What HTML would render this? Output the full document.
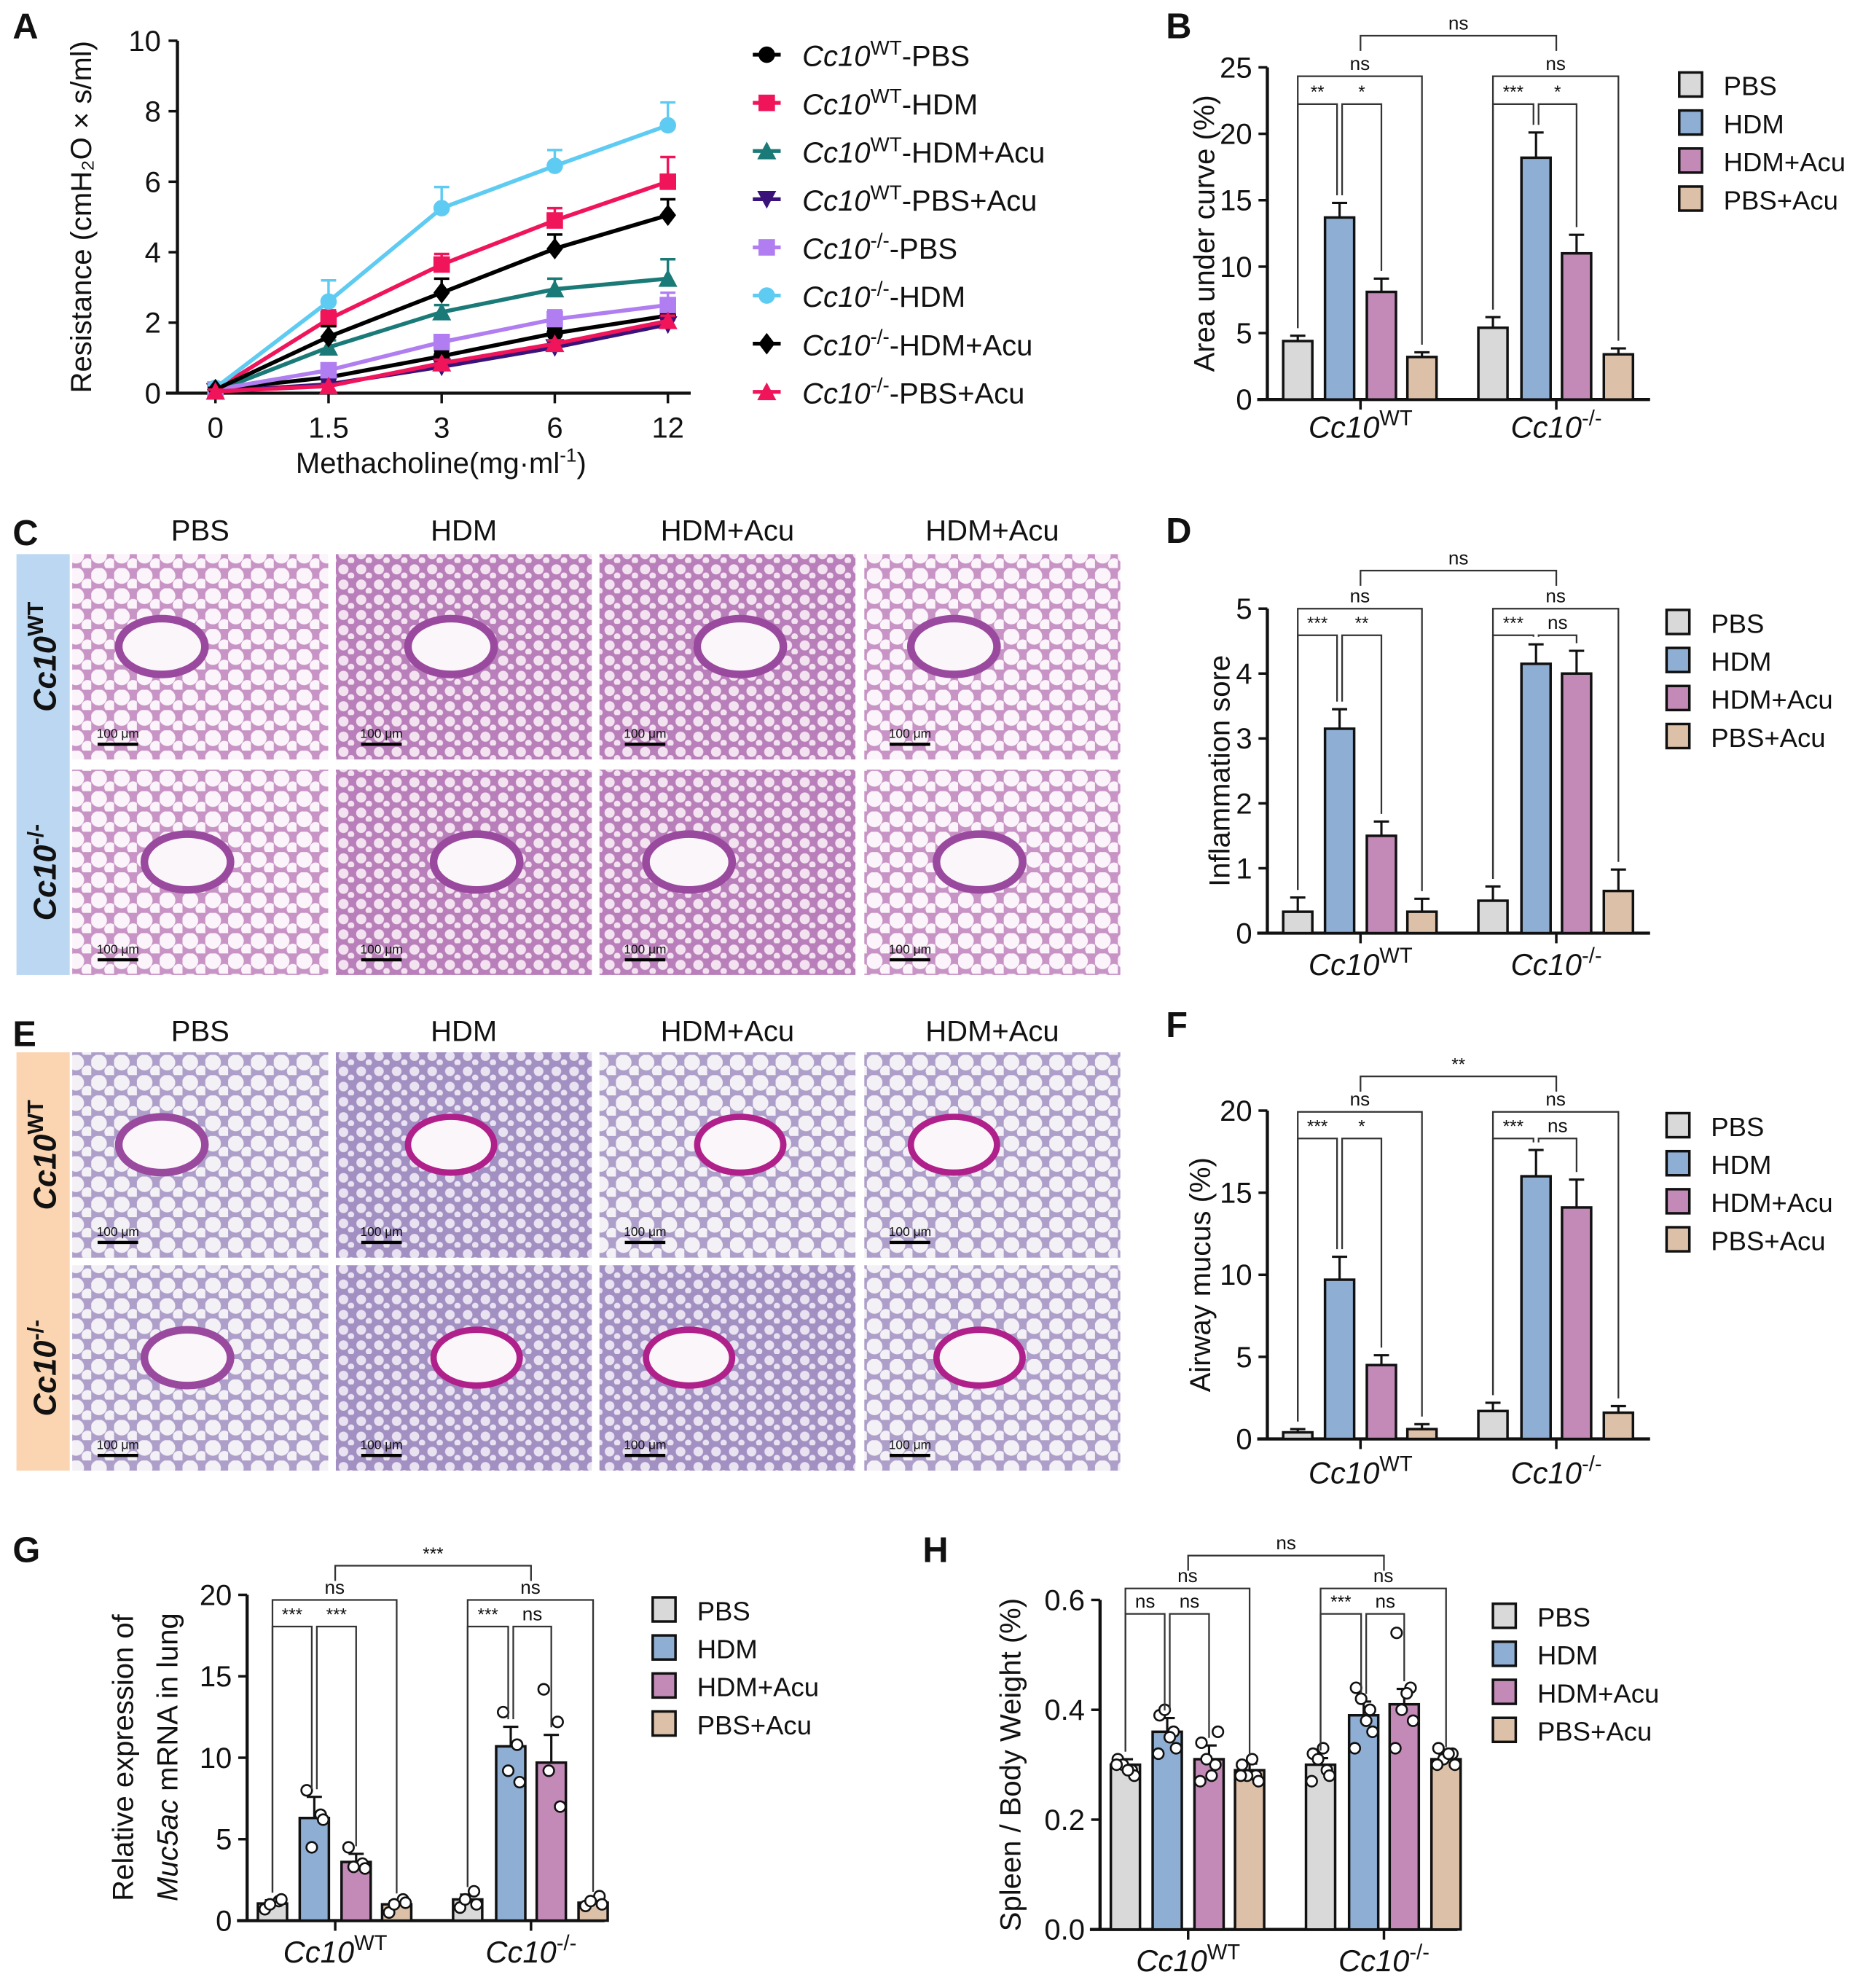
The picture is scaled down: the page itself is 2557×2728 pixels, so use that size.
<!DOCTYPE html>
<html><head><meta charset="utf-8"><style>
html,body{margin:0;padding:0;background:#fff}
svg{display:block}
text{font-family:"Liberation Sans Narrow","Liberation Sans",sans-serif;fill:#111}
</style></head><body>
<svg id="fig" xmlns="http://www.w3.org/2000/svg" width="2557" height="2728" viewBox="0 0 1470 1568">
<defs>
<pattern id="lungA" width="18" height="16" patternUnits="userSpaceOnUse">
<rect width="18" height="16" fill="#c893c5"/><circle cx="6" cy="6" r="6.4" fill="#fbf4fa"/><circle cx="15" cy="13" r="4.7" fill="#fbf4fa"/></pattern>
<pattern id="lungB" width="14" height="12" patternUnits="userSpaceOnUse">
<rect width="14" height="12" fill="#b97fba"/><circle cx="5" cy="5" r="4.0" fill="#f3e2f0"/><circle cx="11" cy="10" r="2.6" fill="#f3e2f0"/></pattern>
<pattern id="lungC" width="18" height="16" patternUnits="userSpaceOnUse">
<rect width="18" height="16" fill="#ad9fc9"/><circle cx="6" cy="6" r="6.3" fill="#f3f0f6"/><circle cx="15" cy="13" r="4.6" fill="#f3f0f6"/></pattern>
<pattern id="lungD" width="14" height="12" patternUnits="userSpaceOnUse">
<rect width="14" height="12" fill="#a290c3"/><circle cx="5" cy="5" r="3.8" fill="#e9e2f1"/><circle cx="11" cy="10" r="2.5" fill="#e9e2f1"/></pattern>
</defs>
<g id="root"></g>
</svg>
<script>
// ---------- data ----------
const doseLabels = ["0","1.5","3","6","12"];
const aTicks = [0,2,4,6,8,10];
const wtPbs = [0.1,0.45,1.05,1.7,2.2];
const wtHdm = [0.1,2.1,3.65,4.9,6.0];
const wtHdmAcu = [0.05,1.3,2.3,2.95,3.25];
const wtPbsAcu = [0.05,0.25,0.75,1.3,1.95];
const koPbs = [0.1,0.65,1.45,2.1,2.5];
const koHdm = [0.15,2.6,5.25,6.45,7.6];
const koHdmAcu = [0.1,1.6,2.85,4.1,5.05];
const koPbsAcu = [0.05,0.2,0.85,1.4,2.05];
const wtPbsErr = [0.05,0.1,0.15,0.15,0.2];
const wtHdmErr = [0.05,0.25,0.3,0.35,0.7];
const wtHdmAcuErr = [0.05,0.2,0.2,0.3,0.55];
const wtPbsAcuErr = [0.05,0.05,0.1,0.1,0.15];
const koPbsErr = [0.05,0.1,0.2,0.25,0.35];
const koHdmErr = [0.1,0.6,0.6,0.45,0.65];
const koHdmAcuErr = [0.05,0.3,0.4,0.4,0.45];
const koPbsAcuErr = [0.05,0.05,0.1,0.1,0.15];

const treatments = ["PBS","HDM","HDM+Acu","PBS+Acu"];
const bWt = [4.4,13.7,8.1,3.2], bKo = [5.4,18.2,11.0,3.4];
const bWtErr = [0.4,1.1,1.0,0.35], bKoErr = [0.8,1.9,1.4,0.45];
const bTicks = [0,5,10,15,20,25];
const dWt = [0.33,3.15,1.5,0.33], dKo = [0.5,4.15,4.0,0.65];
const dWtErr = [0.22,0.3,0.22,0.2], dKoErr = [0.22,0.3,0.35,0.33];
const dTicks = [0,1,2,3,4,5];
const fWt = [0.4,9.7,4.5,0.6], fKo = [1.7,16.0,14.1,1.6];
const fWtErr = [0.2,1.4,0.6,0.3], fKoErr = [0.5,1.6,1.7,0.4];
const fTicks = [0,5,10,15,20];
const gWt = [1.05,6.3,3.6,1.0], gKo = [1.3,10.7,9.7,1.1];
const gWtErr = [0.2,1.3,0.5,0.2], gKoErr = [0.3,1.2,1.7,0.2];
const gWtPts = [[0.7,1.2,1.0,1.3],[8.0,6.5,4.5,6.2],[4.5,3.5,3.3,3.2],[0.5,1.3,1.0,1.1]];
const gKoPts = [[0.8,1.8,1.3,1.0],[12.8,10.8,9.2,8.5],[14.2,12.2,9.2,7.0],[0.9,1.5,1.2,1.0]];
const gTicks = [0,5,10,15,20];
const hWt = [0.30,0.36,0.31,0.29], hKo = [0.30,0.39,0.41,0.31];
const hWtErr = [0.01,0.025,0.025,0.012], hKoErr = [0.012,0.025,0.028,0.008];
const hWtPts = [[0.31,0.29,0.30,0.28,0.30,0.29],[0.39,0.36,0.40,0.33,0.32,0.35],[0.34,0.30,0.31,0.36,0.27,0.28],[0.30,0.28,0.28,0.27,0.28,0.31]];
const hKoPts = [[0.32,0.29,0.31,0.28,0.27,0.33],[0.44,0.40,0.42,0.36,0.33,0.38],[0.54,0.44,0.40,0.38,0.33,0.43],[0.33,0.32,0.31,0.30,0.30,0.32]];
const hTicks = [0.0,0.2,0.4,0.6];

// ---------- helpers ----------
const NS="http://www.w3.org/2000/svg";
const root=document.getElementById('root');
function mk(tag,attrs,parent){const e=document.createElementNS(NS,tag);for(const k in attrs)e.setAttribute(k,attrs[k]);(parent||root).appendChild(e);return e;}
function txt(x,y,s,size,opts,parent){opts=opts||{};const e=mk('text',{x:x,y:y,'font-size':size,'text-anchor':opts.anchor||'middle'},parent);
 if(opts.weight)e.setAttribute('font-weight',opts.weight);if(opts.style)e.setAttribute('font-style',opts.style);
 if(opts.rot)e.setAttribute('transform','rotate(-90 '+x+' '+y+')');e.textContent=s;return e;}
function sup(e,base,sp,size){e.textContent='';const t1=document.createElementNS(NS,'tspan');t1.textContent=base;t1.setAttribute('font-style','italic');e.appendChild(t1);
 const t2=document.createElementNS(NS,'tspan');t2.textContent=sp;t2.setAttribute('dy',-size*0.4);t2.setAttribute('font-size',size*0.7);e.appendChild(t2);}
function panelLetter(x,y,s){const e=txt(x,y,s,28,{anchor:'start',weight:'bold'});
 
 }
const colors=["#d9d9d9","#8eaed4","#c38ab8","#dcc0a8"];

// ---------- Panel A ----------
panelLetter(10,30,'A');
(function(){
 const g=mk('g',{});
 
 
 const X=i=>170+i*89.25, Y=v=>310-v*27.8;
 mk('line',{x1:140,y1:32,x2:140,y2:310,stroke:'#111','stroke-width':2.5},g);
 mk('line',{x1:131,y1:310,x2:545,y2:310,stroke:'#111','stroke-width':2.5},g);
 aTicks.forEach(t=>{mk('line',{x1:133,y1:Y(t),x2:140,y2:Y(t),stroke:'#111','stroke-width':2},g);
   const e=txt(127,Y(t)+8,String(t),23,{anchor:'end'},g);
   
   });
 doseLabels.forEach((d,i)=>{mk('line',{x1:X(i),y1:310,x2:X(i),y2:318,stroke:'#111','stroke-width':2},g);
   const e=txt(X(i),345,d,23,{},g);
   
   });
 const xt=txt(348,373,'Methacholine(mg·ml',23,{},g);
 const ts=document.createElementNS(NS,'tspan');ts.textContent='-1';ts.setAttribute('dy',-9);ts.setAttribute('font-size',15);xt.appendChild(ts);
 const ts2=document.createElementNS(NS,'tspan');ts2.textContent=')';ts2.setAttribute('dy',9);xt.appendChild(ts2);
 
 
 const yt=txt(72,171,'Resistance (cmH₂O × s/ml)',23,{rot:true},g);
 
 
 const series=[
  [wtPbs,wtPbsErr,'#000','circle','WT','-PBS'],
  [wtHdm,wtHdmErr,'#f0145a','square','WT','-HDM'],
  [wtHdmAcu,wtHdmAcuErr,'#1a7a78','tri','WT','-HDM+Acu'],
  [wtPbsAcu,wtPbsAcuErr,'#3a137a','itri','WT','-PBS+Acu'],
  [koPbs,koPbsErr,'#b07ef0','square','-/-','-PBS'],
  [koHdm,koHdmErr,'#5ecbf3','circle','-/-','-HDM'],
  [koHdmAcu,koHdmAcuErr,'#000','diamond','-/-','-HDM+Acu'],
  [koPbsAcu,koPbsAcuErr,'#f0145a','tri','-/-','-PBS+Acu']];
 function marker(x,y,shape,c,par){const s=6.5;
  if(shape==='circle')return mk('circle',{cx:x,cy:y,r:s,fill:c},par);
  if(shape==='square')return mk('rect',{x:x-s,y:y-s,width:2*s,height:2*s,fill:c},par);
  if(shape==='tri')return mk('polygon',{points:`${x},${y-s-1} ${x-s-1},${y+s} ${x+s+1},${y+s}`,fill:c},par);
  if(shape==='itri')return mk('polygon',{points:`${x},${y+s+1} ${x-s-1},${y-s} ${x+s+1},${y-s}`,fill:c},par);
  return mk('polygon',{points:`${x},${y-s-2} ${x-s},${y} ${x},${y+s+2} ${x+s},${y}`,fill:c},par);}
 series.forEach((sr,k)=>{
  const [vals,errs,c,shape,gt,tr]=sr;
  const sg=mk('g',{},g);
  
  
  mk('polyline',{points:vals.map((v,i)=>X(i)+','+Y(v)).join(' '),fill:'none',stroke:c,'stroke-width':3.2},sg);
  vals.forEach((v,i)=>{mk('line',{x1:X(i),y1:Y(v),x2:X(i),y2:Y(v+errs[i]),stroke:c,'stroke-width':2},sg);
   mk('line',{x1:X(i)-6,y1:Y(v+errs[i]),x2:X(i)+6,y2:Y(v+errs[i]),stroke:c,'stroke-width':2},sg);
   const m=marker(X(i),Y(v),shape,c,sg);
   
   });
  const ly=45+k*38, lx=605;
  const le=mk('g',{},g);
  
  
  mk('line',{x1:lx-11,y1:ly-2,x2:lx+11,y2:ly-2,stroke:c,'stroke-width':3},le);
  marker(lx,ly-2,shape,c,le);
  const t=txt(633,ly+7,'',23,{anchor:'start'},le);
  const a=document.createElementNS(NS,'tspan');a.textContent='Cc10';a.setAttribute('font-style','italic');t.appendChild(a);
  const b=document.createElementNS(NS,'tspan');b.textContent=gt;b.setAttribute('dy',-9);b.setAttribute('font-size',16);t.appendChild(b);
  const cc=document.createElementNS(NS,'tspan');cc.textContent=tr;cc.setAttribute('dy',9);t.appendChild(cc);
 });
})();

// ---------- bar chart helper ----------
function bracket(par,x1,x2,y,b1,b2,label){
 mk('polyline',{points:`${x1},${b1} ${x1},${y} ${x2},${y} ${x2},${b2}`,fill:'none',stroke:'#333','stroke-width':1.3},par);
 const e=txt((x1+x2)/2,y-5,label,label==='ns'?15:14,{},par);
 
 }
function barChart(cfg){
 const g=mk('g',{});
 
 
 const ax=cfg.ax, y0=cfg.y0, yT=cfg.yT, mx=cfg.max;
 const Y=v=>y0-(v/mx)*(y0-yT);
 const off=cfg.off, bw=cfg.bw;
 const cx=(grp,i)=>ax+off[grp*4+i];
 mk('line',{x1:ax,y1:yT,x2:ax,y2:y0,stroke:'#111','stroke-width':2.5},g);
 mk('line',{x1:ax-8,y1:y0,x2:ax+cfg.len,y2:y0,stroke:'#111','stroke-width':2.5},g);
 cfg.ticks.forEach(t=>{mk('line',{x1:ax-7,y1:Y(t),x2:ax,y2:Y(t),stroke:'#111','stroke-width':2},g);
   const e=txt(ax-12,Y(t)+8,cfg.fmt?t.toFixed(1):String(t),23,{anchor:'end'},g);
   
   });
 const yt=txt(cfg.ytx,(y0+yT)/2,cfg.ytitle,23,{rot:true},g);
 
 
 [cfg.wt,cfg.ko].forEach((vals,grp)=>{
  const errs=grp?cfg.koErr:cfg.wtErr, pts=grp?cfg.koPts:cfg.wtPts;
  vals.forEach((v,i)=>{const x=cx(grp,i);
   const r=mk('rect',{x:x-bw/2,y:Y(v),width:bw,height:y0-Y(v),fill:colors[i],stroke:'#111','stroke-width':2},g);
   
   
   const e=errs[i];
   mk('line',{x1:x,y1:Y(v),x2:x,y2:Y(v+e),stroke:'#111','stroke-width':1.8},g);
   mk('line',{x1:x-6,y1:Y(v+e),x2:x+6,y2:Y(v+e),stroke:'#111','stroke-width':1.8},g);
   if(pts){const jit=[-6,5,-2,7,-7,2];pts[i].forEach((p,j)=>{
     const d=mk('circle',{cx:x+jit[j%jit.length],cy:Y(p),r:4.2,fill:'#fff',stroke:'#111','stroke-width':1.5},g);
     
     });}
  });
  const gx=(cx(grp,1)+cx(grp,2))/2;
  mk('line',{x1:gx,y1:y0,x2:gx,y2:y0+8,stroke:'#111','stroke-width':2},g);
  const lab=txt(gx,y0+cfg.glab,'',24,{},g);
  sup(lab,'Cc10',grp?'-/-':'WT',24);
  
  
 });
 treatments.forEach((t,i)=>{const ly=cfg.ly+i*30;
  const le=mk('g',{},g);
  
  
  mk('rect',{x:cfg.lx,y:ly-10,width:18,height:19,fill:colors[i],stroke:'#111','stroke-width':2},le);
  txt(cfg.lx+35,ly+8,t,21,{anchor:'start'},le);});
 const s=cfg.sig;
 const top=(grp,i,extra)=>Y((grp?cfg.ko:cfg.wt)[i]+(grp?cfg.koErr:cfg.wtErr)[i])-(extra||6);
 [0,1].forEach(grp=>{
  bracket(g,cx(grp,0),cx(grp,3),s.y2,top(grp,0),top(grp,3),'ns');
  bracket(g,cx(grp,0),cx(grp,1)-2,s.y3,top(grp,0),top(grp,1),s.labs[grp][0]);
  bracket(g,cx(grp,1)+2,cx(grp,2),s.y3,top(grp,1),top(grp,2),s.labs[grp][1]);
 });
 const gxw=(cx(0,1)+cx(0,2))/2, gxk=(cx(1,1)+cx(1,2))/2;
 bracket(g,gxw,gxk,s.y1,s.y1+12,s.y1+12,s.top);
}
const offs=[24,57,90,122,178,212,244,277];

panelLetter(920,30,'B');
barChart({name:'panel-b-auc-chart',ax:1000,y0:315,yT:53,max:25,ticks:bTicks,off:offs,bw:23,len:302,ytx:958,
 ytitle:'Area under curve (%)',wt:bWt,ko:bKo,wtErr:bWtErr,koErr:bKoErr,lx:1325,ly:67,glab:30,
 sig:{y1:28,y2:60,y3:82,top:'ns',labs:[['**','*'],['***','*']]}});
panelLetter(920,428,'D');
barChart({name:'panel-d-inflammation-chart',ax:1000,y0:736,yT:480,max:5,ticks:dTicks,off:offs,bw:23,len:302,ytx:970,
 ytitle:'Inflammation sore',wt:dWt,ko:dKo,wtErr:dWtErr,koErr:dKoErr,lx:1315,ly:491,glab:33,
 sig:{y1:450,y2:480,y3:501,top:'ns',labs:[['***','**'],['***','ns']]}});
panelLetter(920,818,'F');
barChart({name:'panel-f-mucus-chart',ax:1000,y0:1135,yT:876,max:20,ticks:fTicks,off:offs,bw:23,len:302,ytx:955,
 ytitle:'Airway mucus (%)',wt:fWt,ko:fKo,wtErr:fWtErr,koErr:fKoErr,lx:1315,ly:888,glab:35,
 sig:{y1:849,y2:877,y3:898,top:'**',labs:[['***','*'],['***','ns']]}});
panelLetter(10,1232,'G');
barChart({name:'panel-g-muc5ac-chart',ax:195,y0:1515,yT:1258,max:20,ticks:gTicks,off:offs.map(o=>o-4),bw:23,len:282,ytx:105,
 ytitle:'Relative expression of',wt:gWt,ko:gKo,wtErr:gWtErr,koErr:gKoErr,wtPts:gWtPts,koPts:gKoPts,lx:515,ly:1270,glab:33,
 sig:{y1:1235,y2:1262,y3:1283,top:'***',labs:[['***','***'],['***','ns']]}});
(function(){const e=txt(140,1386,'',23,{rot:true});
 const a=document.createElementNS(NS,'tspan');a.textContent='Muc5ac';a.setAttribute('font-style','italic');e.appendChild(a);
 const b=document.createElementNS(NS,'tspan');b.textContent=' mRNA in lung';e.appendChild(b);
 
 })();
panelLetter(728,1232,'H');
barChart({name:'panel-h-spleen-chart',ax:868,y0:1522,yT:1262,max:0.6,ticks:hTicks,fmt:true,off:offs.map(o=>o-4),bw:23,len:282,ytx:805,
 ytitle:'Spleen / Body Weight (%)',wt:hWt,ko:hKo,wtErr:hWtErr,koErr:hKoErr,wtPts:hWtPts,koPts:hKoPts,lx:1178,ly:1275,glab:33,
 sig:{y1:1227,y2:1253,y3:1273,top:'ns',labs:[['ns','ns'],['***','ns']]}});

// ---------- histology panels ----------
function histo(letter,ly,rowTops,stripColor,pats,names){
 panelLetter(10,ly,letter);
 const g=mk('g',{});
 
 
 const cols=[57,265,473,682], w=202, h=162;
 const heads=['PBS','HDM','HDM+Acu','HDM+Acu'];
 heads.forEach((t,i)=>{const e=txt(cols[i]+w/2,ly-4,t,23,{},g);
  
  });
 const st=mk('rect',{x:13,y:rowTops[0],width:42,height:rowTops[1]+h-rowTops[0],fill:stripColor},g);
 
 
 ['WT','-/-'].forEach((sp,r)=>{const cy=rowTops[r]+h/2;
  const e=txt(44,cy,'',25,{rot:true,weight:'bold'},g);sup(e,'Cc10',sp,25);
  
  
  cols.forEach((x,i)=>{const p=pats[r][i];
   const tile=mk('rect',{x:x,y:rowTops[r],width:w,height:h,fill:'url(#'+p+')'},g);
   
   
   mk('ellipse',{cx:x+w*(0.35+0.1*((i+r)%3)),cy:rowTops[r]+h*0.45,rx:34,ry:22,fill:'#fbf6fa',stroke:letter==='E'&&i>0?'#b0208a':'#9a4a9e','stroke-width':letter==='E'&&i>0?5:6},g);
   mk('line',{x1:x+20,y1:rowTops[r]+h-12,x2:x+52,y2:rowTops[r]+h-12,stroke:'#000','stroke-width':2.5},g);
   txt(x+36,rowTops[r]+h-17,'100 μm',10,{},g);
  });});
}
histo('C',430,[437,607],'#bcd7f2',[['lungA','lungB','lungB','lungA'],['lungA','lungB','lungB','lungA']],['wt','ko']);
histo('E',825,[830,998],'#fbd4b2',[['lungC','lungD','lungC','lungC'],['lungC','lungD','lungD','lungC']],['wt','ko']);
</script>
</body></html>
